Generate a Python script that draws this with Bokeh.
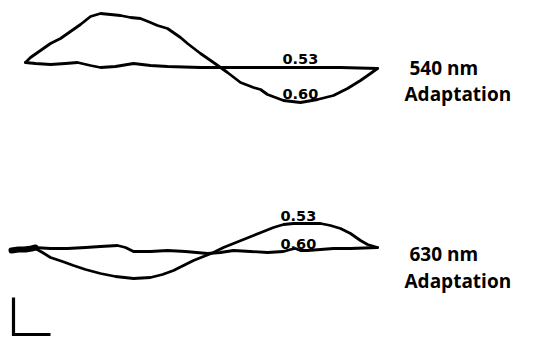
from bokeh.plotting import figure
from bokeh.models import Range1d
from bokeh.embed import file_html
from bokeh.resources import INLINE
from bokeh.core.properties import value

# ---- traced data (time units, response units; image-like coordinates) ----
top_a_t = [25, 30, 40, 50, 60, 70, 80, 90, 100, 110, 120, 130, 140, 150, 157, 167, 180, 187,
           200, 213, 220, 227, 240, 253, 260, 267, 283, 300, 317, 333, 347, 360, 370, 377]
top_a_v = [62, 57, 50, 43, 38, 31, 24, 16, 13, 14, 15, 17, 18, 22, 25, 28, 37, 43,
           53, 62, 67, 72, 82, 87, 89, 94, 100, 102, 99, 95, 88, 80, 73, 68]

top_b_t = [25, 35, 50, 65, 77, 90, 100, 115, 133, 150, 167, 200, 220, 260, 300, 340, 377]
top_b_v = [62, 63, 64, 63, 62, 65, 67, 66, 63, 65, 66, 67, 67, 67, 67, 67, 68]

bot_a_t = [33, 42, 50, 62, 73, 85, 100, 115, 133, 150, 162, 173, 185, 193, 203, 213, 223,
           233, 243, 253, 263, 273, 283, 293, 305, 320, 330, 340, 350, 360, 367, 377]
bot_a_v = [247, 252, 257, 261, 265, 269, 273, 276, 278, 277, 274, 270, 264, 260, 256, 252, 247,
           243, 239, 235, 231, 227, 224, 223, 223, 223, 225, 228, 233, 240, 244, 247]

bot_b_t = [12, 22, 33, 50, 67, 85, 100, 117, 125, 133, 150, 167, 185, 207, 220, 233, 250,
           267, 283, 290, 295, 300, 307, 320, 333, 350, 377]
bot_b_v = [249, 248, 247, 248, 248, 247, 246, 245, 247, 251, 251, 250, 251, 253, 252, 250, 251,
           252, 251, 249, 248, 250, 250, 249, 248, 248, 247]

blob_t = [11, 18, 25, 31, 35]
blob_v = [250, 249, 249, 248, 247]

scale_t = [13, 13, 50]
scale_v = [297, 334, 334]

label_text = ["0.53", "0.60", "0.53", "0.60"]
label_t = [282, 282, 280, 280]
label_v = [58, 93, 215, 243]

cond_text = ["540 nm", "Adaptation", "630 nm", "Adaptation"]
cond_t = [409, 404, 409, 404]
cond_v = [67, 93, 253, 280]

p = figure(width=517, height=336, output_backend="svg", toolbar_location=None,
           x_range=Range1d(0, 517), y_range=Range1d(336, 0),
           min_border=0, outline_line_color=None)
p.axis.visible = False
p.grid.visible = False
p.background_fill_color = "white"
p.border_fill_color = "white"

col = "#000000"
for t, v in [(top_a_t, top_a_v), (top_b_t, top_b_v), (bot_a_t, bot_a_v), (bot_b_t, bot_b_v)]:
    p.line(t, v, line_color=col, line_width=2.8, line_join="round", line_cap="round")
p.line(blob_t, blob_v, line_color=col, line_width=6, line_cap="round")
p.line(scale_t, scale_v, line_color=col, line_width=3.2, line_join="miter")

p.text(label_t, label_v, text=label_text, text_font=value("DejaVu Sans"),
       text_font_style="bold", text_font_size="14.5px", text_color=col,
       text_baseline="alphabetic", text_align="left")
p.text(cond_t, cond_v, text=cond_text, text_font=value("Open Sans"),
       text_font_style="bold", text_font_size="19px", text_color=col,
       text_baseline="alphabetic", text_align="left")

open("out.html", "w").write(file_html(p, INLINE))
